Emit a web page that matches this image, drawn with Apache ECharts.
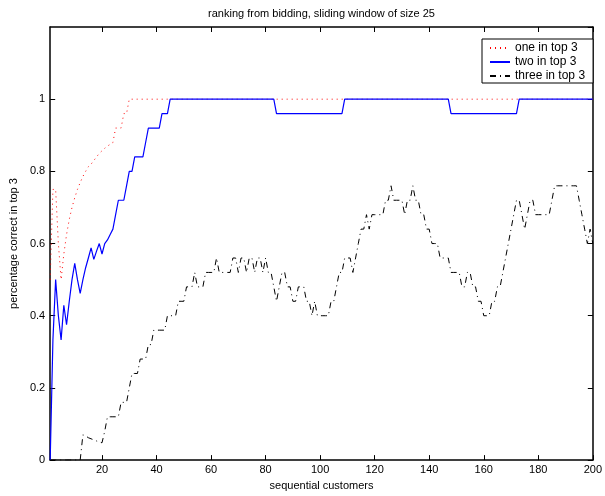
<!DOCTYPE html>
<html>
<head>
<meta charset="utf-8">
<script src="https://cdn.jsdelivr.net/npm/echarts@6/dist/echarts.min.js"></script>
<style>
  html, body { margin: 0; padding: 0; background: #fff; }
  #chart { width: 605px; height: 496px; }
</style>
</head>
<body>
<div id="chart"></div>
<script>
// sliding window share per customer, customers 1..200
const oneInTop3 = [
  0.5, 0.75, 0.75, 0.6, 0.5, 0.571, 0.625, 0.667, 0.7, 0.727,
  0.75, 0.769, 0.786, 0.8, 0.813, 0.82, 0.83, 0.84, 0.85, 0.857,
  0.864, 0.87, 0.875, 0.88, 0.92, 0.92, 0.92, 0.96, 0.96, 1,
  1, 1, 1, 1, 1, 1, 1, 1, 1, 1,
  1, 1, 1, 1, 1, 1, 1, 1, 1, 1,
  1, 1, 1, 1, 1, 1, 1, 1, 1, 1,
  1, 1, 1, 1, 1, 1, 1, 1, 1, 1,
  1, 1, 1, 1, 1, 1, 1, 1, 1, 1,
  1, 1, 1, 1, 1, 1, 1, 1, 1, 1,
  1, 1, 1, 1, 1, 1, 1, 1, 1, 1,
  1, 1, 1, 1, 1, 1, 1, 1, 1, 1,
  1, 1, 1, 1, 1, 1, 1, 1, 1, 1,
  1, 1, 1, 1, 1, 1, 1, 1, 1, 1,
  1, 1, 1, 1, 1, 1, 1, 1, 1, 1,
  1, 1, 1, 1, 1, 1, 1, 1, 1, 1,
  1, 1, 1, 1, 1, 1, 1, 1, 1, 1,
  1, 1, 1, 1, 1, 1, 1, 1, 1, 1,
  1, 1, 1, 1, 1, 1, 1, 1, 1, 1,
  1, 1, 1, 1, 1, 1, 1, 1, 1, 1,
  1, 1, 1, 1, 1, 1, 1, 1, 1, 1
];

const twoInTop3 = [
  0, 0.333, 0.5, 0.4, 0.333, 0.429, 0.375, 0.44, 0.5, 0.545,
  0.5, 0.462, 0.5, 0.533, 0.56, 0.588, 0.556, 0.579, 0.6, 0.571,
  0.6, 0.61, 0.625, 0.64, 0.68, 0.72, 0.72, 0.72, 0.76, 0.8,
  0.8, 0.84, 0.84, 0.84, 0.84, 0.88, 0.92, 0.92, 0.92, 0.92,
  0.92, 0.96, 0.96, 0.96, 1, 1, 1, 1, 1, 1,
  1, 1, 1, 1, 1, 1, 1, 1, 1, 1,
  1, 1, 1, 1, 1, 1, 1, 1, 1, 1,
  1, 1, 1, 1, 1, 1, 1, 1, 1, 1,
  1, 1, 1, 0.96, 0.96, 0.96, 0.96, 0.96, 0.96, 0.96,
  0.96, 0.96, 0.96, 0.96, 0.96, 0.96, 0.96, 0.96, 0.96, 0.96,
  0.96, 0.96, 0.96, 0.96, 0.96, 0.96, 0.96, 0.96, 1, 1,
  1, 1, 1, 1, 1, 1, 1, 1, 1, 1,
  1, 1, 1, 1, 1, 1, 1, 1, 1, 1,
  1, 1, 1, 1, 1, 1, 1, 1, 1, 1,
  1, 1, 1, 1, 1, 1, 1, 0.96, 0.96, 0.96,
  0.96, 0.96, 0.96, 0.96, 0.96, 0.96, 0.96, 0.96, 0.96, 0.96,
  0.96, 0.96, 0.96, 0.96, 0.96, 0.96, 0.96, 0.96, 0.96, 0.96,
  0.96, 0.96, 1, 1, 1, 1, 1, 1, 1, 1,
  1, 1, 1, 1, 1, 1, 1, 1, 1, 1,
  1, 1, 1, 1, 1, 1, 1, 1, 1, 1
];

const threeInTop3 = [
  0, 0, 0, 0, 0, 0, 0, 0, 0, 0,
  0, 0, 0.07, 0.067, 0.062, 0.059, 0.056, 0.053, 0.05, 0.048,
  0.08, 0.12, 0.12, 0.12, 0.12, 0.12, 0.16, 0.16, 0.16, 0.2,
  0.24, 0.24, 0.24, 0.28, 0.28, 0.28, 0.32, 0.32, 0.36, 0.36,
  0.36, 0.36, 0.36, 0.4, 0.4, 0.4, 0.4, 0.44, 0.44, 0.44,
  0.48, 0.48, 0.48, 0.52, 0.48, 0.48, 0.48, 0.52, 0.52, 0.52,
  0.52, 0.56, 0.52, 0.52, 0.52, 0.52, 0.52, 0.56, 0.56, 0.52,
  0.56, 0.56, 0.52, 0.56, 0.56, 0.52, 0.56, 0.56, 0.52, 0.56,
  0.52, 0.52, 0.48, 0.44, 0.48, 0.52, 0.52, 0.48, 0.48, 0.44,
  0.44, 0.48, 0.48, 0.48, 0.44, 0.44, 0.4, 0.44, 0.4, 0.4,
  0.4, 0.4, 0.4, 0.44, 0.44, 0.48, 0.52, 0.52, 0.56, 0.56,
  0.56, 0.52, 0.56, 0.6, 0.64, 0.64, 0.68, 0.64, 0.68, 0.68,
  0.68, 0.68, 0.68, 0.72, 0.72, 0.76, 0.72, 0.72, 0.72, 0.72,
  0.68, 0.72, 0.72, 0.76, 0.72, 0.72, 0.68, 0.68, 0.64, 0.64,
  0.6, 0.6, 0.6, 0.56, 0.56, 0.56, 0.56, 0.52, 0.52, 0.52,
  0.52, 0.48, 0.48, 0.52, 0.52, 0.48, 0.48, 0.44, 0.44, 0.4,
  0.4, 0.4, 0.44, 0.44, 0.48, 0.48, 0.52, 0.56, 0.6, 0.64,
  0.68, 0.72, 0.72, 0.68, 0.64, 0.68, 0.72, 0.72, 0.68, 0.68,
  0.68, 0.68, 0.68, 0.68, 0.72, 0.76, 0.76, 0.76, 0.76, 0.76,
  0.76, 0.76, 0.76, 0.76, 0.72, 0.68, 0.64, 0.6, 0.64, 0.6
];

const xTicks = [20, 40, 60, 80, 100, 120, 140, 160, 180, 200];
const seriesNames = ['one in top 3', 'two in top 3', 'three in top 3'];

const font = 'Liberation Sans, Arial, Helvetica, sans-serif';
const toPairs = arr => arr.map((v, i) => [i + 1, v]);

const chart = echarts.init(document.getElementById('chart'), null, { renderer: 'canvas' });

const frame = { show: true, onZero: false, lineStyle: { color: '#000', width: 1.5 } };
const ticksIn = { show: true, inside: true, length: 5, lineStyle: { color: '#000', width: 1 } };

const option = {
  animation: false,
  backgroundColor: '#fff',
  grid: { left: 47, right: 7, top: 27, bottom: 34, containLabel: false },
  legend: {
    data: seriesNames,
    orient: 'vertical',
    left: 482,
    top: 39,
    padding: [3, 8, 1, 7],
    itemGap: 2,
    itemWidth: 20,
    itemHeight: 12,
    borderColor: '#000',
    borderWidth: 1,
    backgroundColor: '#fff',
    itemStyle: { opacity: 0 },
    textStyle: { fontFamily: font, fontSize: 12, color: '#000' }
  },
  xAxis: [
    {
      type: 'value',
      min: 1,
      max: 200,
      position: 'bottom',
      name: 'sequential customers',
      nameLocation: 'middle',
      nameGap: 19,
      nameTextStyle: { fontFamily: font, fontSize: 11, color: '#000' },
      axisLine: frame,
      axisTick: Object.assign({ customValues: xTicks }, ticksIn),
      axisLabel: { customValues: xTicks, margin: 4, fontFamily: font, fontSize: 11, color: '#000' },
      splitLine: { show: false }
    },
    {
      type: 'value',
      min: 1,
      max: 200,
      position: 'top',
      name: 'ranking from bidding, sliding window of size 25',
      nameLocation: 'middle',
      nameGap: 8,
      nameTextStyle: { fontFamily: font, fontSize: 11, color: '#000' },
      axisLine: frame,
      axisTick: Object.assign({ customValues: xTicks }, ticksIn),
      axisLabel: { show: false },
      splitLine: { show: false }
    }
  ],
  yAxis: [
    {
      type: 'value',
      min: 0,
      max: 1.2,
      interval: 0.2,
      position: 'left',
      name: 'percentage correct in top 3',
      nameLocation: 'middle',
      nameGap: 25,
      nameTextStyle: { fontFamily: font, fontSize: 11, color: '#000' },
      axisLine: frame,
      axisTick: ticksIn,
      axisLabel: {
        showMaxLabel: false,
        margin: 5,
        fontFamily: font,
        fontSize: 11,
        color: '#000',
        formatter: v => String(+v.toFixed(1))
      },
      splitLine: { show: false }
    },
    {
      type: 'value',
      min: 0,
      max: 1.2,
      interval: 0.2,
      position: 'right',
      axisLine: frame,
      axisTick: ticksIn,
      axisLabel: { show: false },
      splitLine: { show: false }
    }
  ],
  series: [
    {
      name: seriesNames[0],
      type: 'line',
      data: toPairs(oneInTop3),
      showSymbol: false,
      symbol: 'none',
      lineStyle: { color: '#ff0000', width: 1, type: [1, 4] },
      itemStyle: { color: '#ff0000' }
    },
    {
      name: seriesNames[1],
      type: 'line',
      data: toPairs(twoInTop3),
      showSymbol: false,
      symbol: 'none',
      lineStyle: { color: '#0000ff', width: 1.2 },
      itemStyle: { color: '#0000ff' }
    },
    {
      name: seriesNames[2],
      type: 'line',
      data: toPairs(threeInTop3),
      showSymbol: false,
      symbol: 'none',
      lineStyle: { color: '#000', width: 1, type: [6, 4, 1, 4] },
      itemStyle: { color: '#000' }
    }
  ]
};

chart.setOption(option);
</script>
</body>
</html>
